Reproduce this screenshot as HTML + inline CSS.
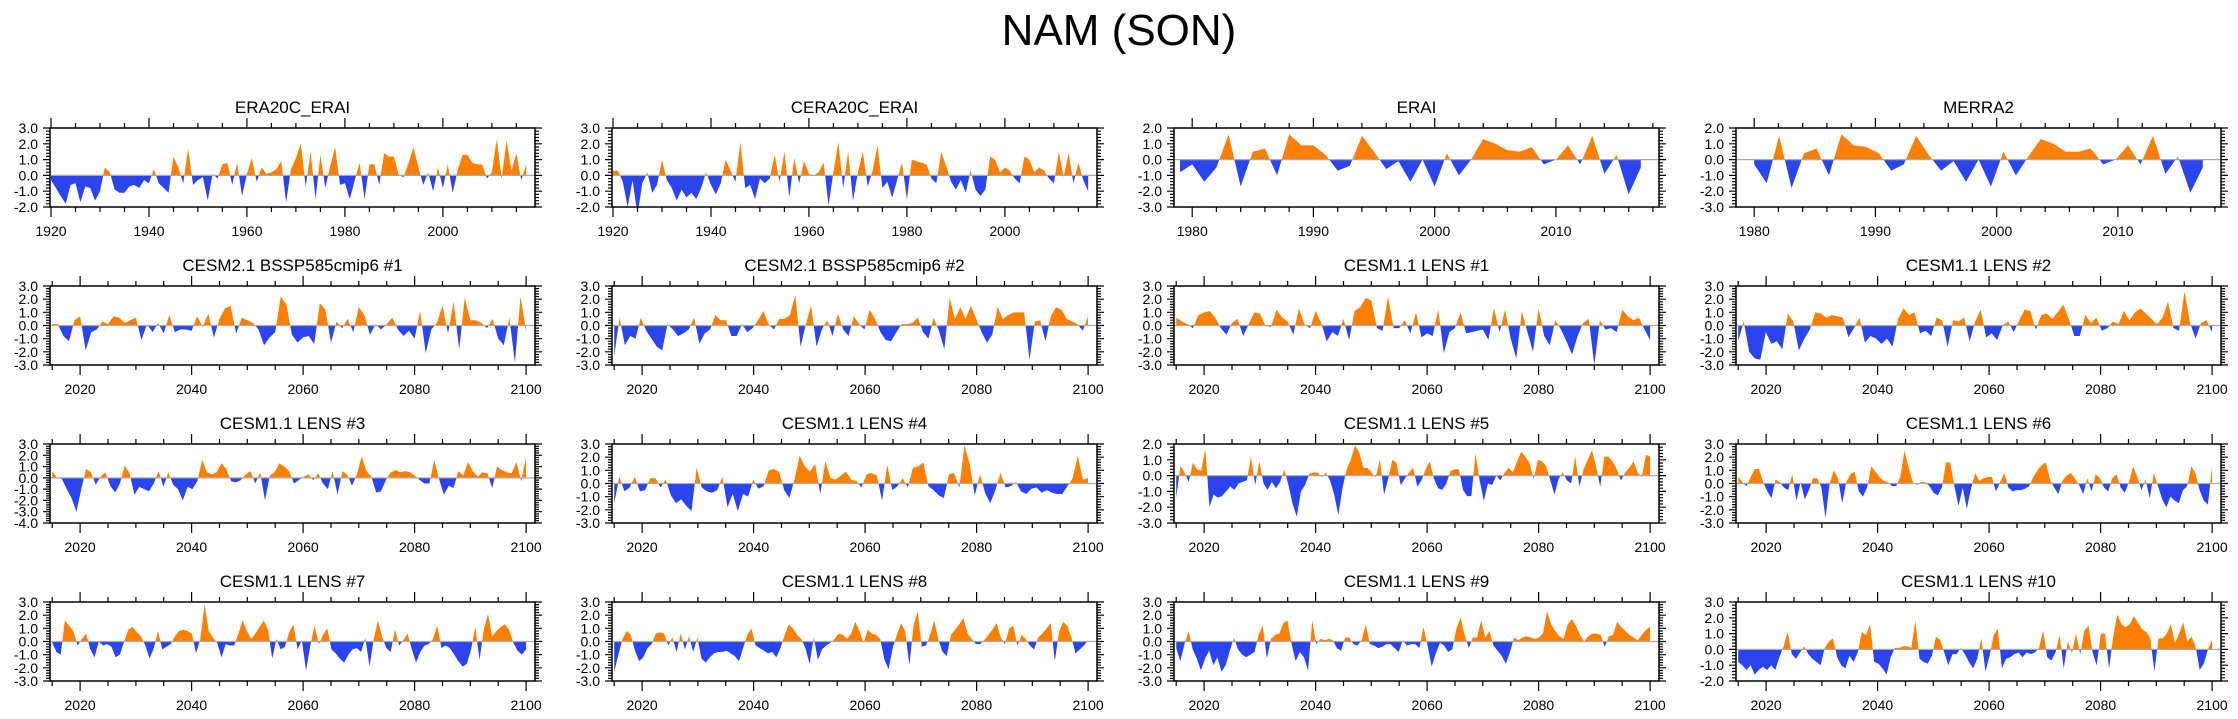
<!DOCTYPE html>
<html><head><meta charset="utf-8"><title>NAM (SON)</title>
<style>
html,body{margin:0;padding:0;background:#fff;}
svg{display:block;font-family:"Liberation Sans",Arial,sans-serif;}
</style></head>
<body>
<svg id="chart" width="2238" height="719" viewBox="0 0 2238 719">
<text x="1119" y="45" font-size="44" text-anchor="middle">NAM (SON)</text>
</svg>
<script>
// ---------- data ----------
const era20cValues = [-0.3,-0.8,-1.3,-1.8,-0.6,-0.5,-1.7,-0.7,-0.8,-1.6,-1.0,0.5,0.2,-0.9,-1.1,-1.1,-0.7,-0.6,-0.8,-0.3,-0.5,0.4,-0.5,-0.8,-1.1,1.2,0.5,-0.5,1.7,-0.6,-0.3,-0.1,-1.6,0.1,-0.2,0.7,0.8,-0.6,0.8,-1.3,0.1,1.1,-0.4,0.5,0.1,0.2,0.4,0.9,-1.7,0.4,1.1,2.0,-0.7,1.5,-1.5,1.3,-0.8,0.6,1.8,-0.6,-0.5,-1.5,-0.3,0.8,-1.5,0.7,0.7,-0.6,1.4,1.2,1.2,0.0,-0.1,0.8,1.8,0.5,-0.6,0.2,-1.0,0.5,-0.8,0.7,-1.1,0.3,1.3,1.3,0.8,0.7,0.7,-0.2,0.2,2.3,-0.2,2.2,0.3,1.4,-0.3,0.7];
const cera20cValues = [0.3,0.3,-0.4,-2.0,-0.3,-2.5,-0.5,0.2,-1.1,-0.6,1.0,-0.3,-0.8,-1.6,-0.9,-1.4,-1.1,-1.5,-0.8,0.2,-0.6,-1.2,-0.5,1.0,0.3,-0.4,2.1,-0.8,-0.6,-1.5,-0.2,-0.5,-0.2,1.3,-0.4,1.5,-1.4,1.1,-0.5,0.9,0.1,0.0,0.2,0.8,-1.9,0.2,2.1,-0.8,1.5,-1.6,0.2,1.5,-0.7,0.3,1.9,-0.8,-0.4,-1.4,-0.3,0.8,-1.5,1.0,0.9,0.8,0.7,-0.2,-0.5,1.5,0.6,-0.4,-0.9,-0.3,-1.1,0.3,-0.9,-1.3,-0.9,1.2,1.0,0.2,0.5,0.3,-0.2,-0.5,1.2,1.0,0.2,0.5,0.3,-0.2,-0.5,1.5,-0.1,1.4,-0.5,0.8,-0.3,-1.0];
const eraiValues = [-0.8,-0.3,-1.4,-0.5,1.6,-1.7,0.5,0.7,-1.0,1.6,0.9,0.9,0.3,-0.7,-0.4,1.5,0.5,-0.6,-0.1,-1.4,0.0,-1.7,0.4,-1.0,0.0,1.3,1.0,0.6,0.5,0.8,-0.3,0.0,0.9,-0.3,1.5,-0.9,0.3,-2.2,-0.5];
const merra2Values = [-0.3,-1.5,1.5,-1.8,0.4,0.7,-1.0,1.6,0.9,0.8,0.4,-0.7,-0.3,1.5,0.3,-0.7,-0.1,-1.4,0.0,-1.7,0.5,-1.0,0.2,1.3,1.0,0.5,0.5,0.7,-0.3,0.0,0.9,-0.3,1.5,-0.9,0.2,-2.1,-0.5];
const cesm2r1Values = [0.1,0.1,-0.8,-1.2,0.4,0.7,-1.9,-0.5,-0.3,0.3,0.1,0.7,0.6,0.2,0.4,0.6,-1.1,0.1,-0.5,0.2,-0.6,0.8,-0.5,-0.3,-0.3,-0.4,0.7,-0.1,0.9,-0.9,0.5,1.3,1.5,-0.6,0.6,0.4,0.2,-0.3,-1.5,-0.9,-0.5,2.2,1.6,-0.7,-1.3,-0.9,-0.8,-1.4,1.7,1.2,-1.3,0.3,-0.2,0.5,-0.5,1.4,0.8,-0.7,0.1,-0.3,0.1,0.6,-0.3,-0.8,-0.4,-1.0,1.1,-2.1,-0.3,0.2,1.5,-0.6,1.8,-1.8,2.1,0.4,0.4,0.2,-0.2,0.5,-1.0,-1.5,0.6,-2.8,2.2,-0.4];
const cesm2r2Values = [-2.3,0.6,-1.5,-0.8,-1.0,0.6,-0.4,-1.0,-1.6,-1.9,0.1,-0.3,-0.8,-0.6,-0.3,0.6,-1.4,-0.6,-0.3,0.8,0.4,0.4,-0.8,-0.8,0.1,-0.5,-0.2,0.4,1.1,0.1,-0.3,0.5,0.5,0.8,2.3,-1.6,0.1,1.5,-1.6,-0.3,0.4,-0.8,0.9,-0.3,-0.8,0.7,0.1,-0.3,1.2,0.5,-0.5,-1.1,-1.2,-0.5,0.1,0.1,0.2,0.6,-0.5,-1.0,0.6,-0.4,-1.8,2.1,0.5,1.4,0.5,1.5,0.5,-0.5,-1.3,-0.7,1.4,0.5,0.8,1.0,1.0,1.0,-2.6,0.3,0.4,-1.2,0.7,1.4,1.2,0.5,0.3,0.1,-0.4,0.7];
const lens1Values = [0.6,0.3,0.1,-0.2,0.8,1.0,1.1,0.6,-0.2,-0.7,0.2,0.5,-0.8,0.1,1.0,0.9,0.0,-0.1,1.2,0.6,0.3,-0.7,1.3,0.1,-0.2,1.1,0.2,-1.2,-0.5,-0.8,0.5,-1.1,1.1,1.4,2.1,1.9,-0.2,-0.4,2.2,-0.2,-0.2,0.4,-0.6,1.0,-0.9,-0.6,-0.8,1.2,-2.1,-0.5,-0.2,1.0,-0.6,-0.5,-0.4,-0.3,-1.1,1.3,-0.5,1.2,-1.0,-2.5,1.1,-0.5,-2.0,1.3,-0.8,-1.5,0.4,-0.3,-1.2,-2.2,-0.8,0.2,0.5,-3.0,0.4,-0.3,-0.2,-0.5,1.2,0.7,0.4,0.6,-0.3,-1.1];
const lens2Values = [-1.2,0.3,-2.0,-2.5,-2.6,-0.5,-1.4,-1.2,-1.8,0.9,0.3,-1.9,-1.0,-0.3,1.0,0.9,0.6,0.8,0.7,0.6,-0.9,-0.2,0.6,-1.3,-0.8,-1.0,-1.4,-1.0,-1.6,0.5,1.3,0.8,1.0,-0.6,-0.4,-0.8,0.6,0.4,-1.6,0.4,0.3,0.6,-1.2,0.3,1.2,-0.9,-0.6,-1.1,0.0,0.3,-0.5,0.4,1.2,1.1,-0.3,0.8,0.9,0.5,1.0,1.6,0.5,-0.8,-0.8,0.8,0.2,0.6,-0.4,-0.2,0.3,0.1,1.1,0.4,1.0,1.3,0.9,0.5,0.1,0.6,1.8,-0.2,-0.4,2.6,0.2,-1.0,0.2,0.4,-0.5];
const lens3Values = [0.6,0.0,-0.1,-1.0,-1.8,-3.0,-1.0,0.8,0.5,-0.6,0.1,0.5,-0.7,-1.3,-0.5,1.1,0.4,-1.5,-0.8,-1.0,-1.2,-0.5,0.6,-0.8,0.5,-0.6,-1.0,-2.0,-0.8,-1.0,-0.3,1.6,0.5,0.3,0.5,1.3,0.8,-0.3,-0.4,-0.2,0.3,0.6,-0.5,0.5,-2.0,0.2,0.5,1.3,1.0,0.6,-0.5,-0.2,0.1,0.3,-0.2,0.4,-0.5,-1.0,0.6,-1.5,0.6,0.3,-0.7,0.3,1.9,0.6,0.1,-1.3,-1.2,-0.2,0.5,0.7,0.5,0.6,0.5,0.2,-0.2,-0.5,-0.5,1.6,-0.1,-1.5,-0.7,-0.9,0.6,0.2,1.4,0.6,0.1,0.5,0.4,-0.9,1.0,0.7,0.5,0.4,1.4,-0.3,1.9];
const lens4Values = [-1.5,0.5,-0.6,-0.3,0.5,-0.6,-0.5,0.4,0.4,-0.3,0.3,-0.9,-1.5,-1.2,-1.7,-2.1,1.2,-0.3,-0.6,-0.7,-0.5,0.5,-1.8,-0.8,-2.1,-0.8,-1.0,0.3,-0.4,-0.2,1.0,1.1,0.9,-0.5,-1.1,0.3,2.1,1.3,0.9,1.5,-0.8,1.7,0.4,0.3,0.6,0.9,0.3,0.2,-0.3,0.7,0.8,0.6,-1.3,1.4,-0.5,-0.2,0.4,-0.3,1.2,1.3,1.6,-0.2,-0.5,-0.9,-1.1,0.7,0.8,-0.3,2.9,1.5,-0.9,0.7,-0.7,-1.5,-0.5,0.8,-0.3,-0.2,0.1,-0.6,-0.8,-0.4,-0.3,-0.7,-0.5,-0.7,-0.8,-0.8,-0.2,0.4,2.1,0.3,0.4];
const lens5Values = [-1.4,0.6,0.2,-0.4,0.8,0.4,0.3,1.7,-2.0,-1.2,-1.4,-1.3,-1.0,-0.7,-0.9,-0.5,-0.4,-0.3,1.2,-0.6,0.9,-0.5,-0.9,-0.4,-0.8,-0.4,0.4,-0.6,-1.8,-2.6,-1.0,-0.6,0.1,0.2,0.2,-0.1,0.2,-0.3,-1.2,-2.5,-0.8,0.4,1.0,1.9,1.5,0.5,0.5,0.2,-0.1,1.0,-1.2,-0.2,1.0,0.8,-0.6,-0.2,0.2,0.5,-0.7,-0.3,0.4,0.9,-0.2,-0.8,-0.9,-0.5,0.3,0.4,0.4,-0.9,-1.3,-1.3,1.4,-0.3,-1.6,-0.5,-0.6,0.0,-0.3,0.2,0.5,0.2,0.9,1.5,1.2,0.8,-0.2,1.0,0.9,0.6,-0.3,-1.2,-0.2,0.2,-0.3,-0.5,1.2,-0.7,0.4,1.0,1.6,0.6,-0.7,1.2,1.2,0.9,0.4,-0.3,0.2,0.5,0.9,0.2,-0.1,1.3,1.2];
const lens6Values = [0.5,0.1,-0.2,0.5,1.1,1.1,0.1,-0.6,-1.1,0.3,0.1,-0.3,-0.5,0.7,-1.3,0.1,-1.2,-0.5,0.4,0.4,-0.3,-2.6,0.0,1.0,0.4,-1.5,0.1,0.7,0.9,-0.6,-1.0,-0.3,1.3,0.9,0.5,0.2,0.1,-0.2,-0.2,0.5,2.5,1.2,0.1,-0.1,0.1,0.1,-0.2,-0.7,-0.9,-0.3,1.6,1.6,-0.2,-1.7,-0.3,-1.9,-0.4,0.8,0.2,0.4,0.5,0.5,-0.6,0.1,0.8,-0.3,-0.6,-0.5,-0.5,-0.4,-0.2,0.5,1.0,1.4,1.6,0.3,-0.3,-0.8,0.2,0.6,0.8,0.4,-0.1,-0.8,0.4,-0.6,0.7,0.4,-0.3,-0.6,0.4,0.7,-0.3,-0.7,0.1,1.3,0.5,-0.5,0.3,-1.1,0.8,-0.2,-1.2,-1.8,-1.0,-1.3,-1.5,-0.5,-0.2,1.3,0.8,-0.5,-1.3,-1.6,1.3];
const lens7Values = [-0.1,-0.8,-1.0,1.6,1.2,0.8,-0.3,0.2,0.6,-0.6,-1.2,0.0,-0.3,-0.2,-0.4,-1.2,-1.0,0.0,0.9,1.1,0.7,0.4,-0.3,-1.3,-0.5,0.8,-0.6,-0.4,-0.2,0.4,0.8,0.9,0.8,0.6,-0.9,0.2,2.8,0.8,0.3,-0.1,-1.2,-0.2,-0.3,-0.3,0.6,1.6,0.8,0.2,0.6,1.1,1.6,0.9,-1.3,0.2,-0.6,-0.4,0.7,1.3,-0.6,0.1,-2.2,-0.3,1.2,-0.2,0.5,1.0,-0.6,-0.9,-1.3,-1.6,-1.0,-0.6,-0.5,-0.8,0.3,-1.9,0.2,1.6,0.3,-0.5,-0.8,0.9,-0.3,0.1,0.6,-0.6,-1.6,-0.8,-0.3,-0.2,0.2,1.2,-0.5,-0.3,-0.5,-1.0,-1.5,-1.9,-1.7,-0.6,1.1,-1.4,0.9,2.1,0.4,0.8,1.1,1.3,0.9,-0.1,-0.7,-1.0,-0.6];
const lens8Values = [-2.3,-1.0,0.2,0.8,0.5,-0.7,-1.5,-1.2,-0.5,-0.2,0.6,0.7,0.6,-0.3,0.3,-0.8,0.6,-0.6,0.4,-0.8,0.3,-1.3,-1.6,-1.2,-0.9,-0.8,-0.8,-0.7,-0.9,-1.1,-1.5,-0.5,0.5,1.0,-0.3,-0.5,-0.7,-0.9,-0.8,-1.2,-0.5,0.5,1.3,1.0,0.5,0.2,-0.5,-1.7,0.3,-1.4,-0.6,-0.3,-0.1,0.2,0.6,0.5,0.2,0.6,1.5,0.8,-0.1,0.9,0.6,0.5,0.2,-1.4,-2.1,-0.5,0.5,1.4,0.8,-1.8,1.2,2.3,-0.4,-0.3,0.5,1.6,0.1,-0.8,-1.1,0.5,0.9,1.3,1.8,0.6,0.2,-0.2,-0.2,0.1,0.5,0.9,1.4,0.3,-0.2,1.0,1.2,-0.3,0.5,0.2,-0.3,-0.6,0.3,0.6,1.0,1.4,-1.5,0.7,1.5,1.2,0.3,-0.9,-0.6,-0.3,0.1];
const lens9Values = [-0.5,-1.5,-0.2,0.8,-0.6,-1.3,-2.2,-1.3,-0.7,-1.8,-1.2,-2.3,-1.8,-0.7,0.3,-0.6,-1.0,-1.2,-1.0,-0.8,0.5,1.2,-1.3,0.2,0.5,0.6,1.4,1.6,-0.2,-1.5,-0.8,-1.2,-2.2,1.6,-0.2,0.2,0.1,0.2,0.1,-0.5,-0.7,0.3,0.3,-0.2,-0.3,0.1,1.3,-0.2,-0.3,-0.5,-0.4,-0.2,-0.2,-0.5,-0.8,0.1,-0.3,-0.2,-0.2,-0.5,1.1,-0.3,-1.9,-0.9,-0.1,-0.3,-0.8,-0.6,1.0,1.8,0.5,-0.5,0.3,0.3,1.6,0.3,0.8,-0.3,-0.7,-1.1,-1.7,-0.8,0.3,0.1,0.3,0.4,0.3,0.2,0.3,0.6,2.3,1.3,0.8,0.4,0.2,1.3,1.7,1.2,0.5,0.0,0.4,0.6,0.6,0.5,-0.4,0.4,0.5,1.5,1.1,0.8,0.5,0.3,0.1,0.5,0.9,1.1];
const lens10Values = [-0.8,-1.0,-1.3,-1.0,-1.6,-1.3,-1.1,-1.3,-1.0,-1.3,-0.5,0.2,1.1,-0.3,-0.6,-0.2,0.2,-0.3,-0.6,-0.8,-1.0,0.1,0.5,0.7,-0.5,-1.0,-1.2,-0.4,-0.8,-0.2,1.1,0.9,1.6,-0.8,-0.9,-1.2,-1.6,-0.5,0.1,0.1,0.2,0.2,0.1,1.8,-0.6,-0.8,-0.9,-0.4,0.8,0.6,-0.2,-1.0,-0.3,-0.3,0.1,-0.3,-0.8,-1.2,-0.6,0.7,-1.4,-0.4,0.9,1.3,-1.2,-0.6,-0.5,-0.3,-0.2,-0.5,-0.2,-0.3,-0.2,0.1,1.2,-0.5,-0.7,-0.2,0.9,-1.2,0.5,-0.2,1.0,-0.3,1.2,1.5,-0.2,-1.0,1.0,1.0,-1.2,0.8,2.2,1.6,1.4,1.6,2.1,1.7,1.3,1.1,0.7,-1.4,0.7,0.7,1.0,1.6,0.4,1.0,1.7,0.5,0.8,0.2,-1.3,-0.9,0.0,0.6];

const era20cTicks = [1920,1940,1960,1980,2000,2020];
const eraiTicks = [1980,1990,2000,2010];
const cesmTicks = [2020,2040,2060,2080,2100];

const panelTitles = ["ERA20C_ERAI","CERA20C_ERAI","ERAI","MERRA2",
 "CESM2.1 BSSP585cmip6 #1","CESM2.1 BSSP585cmip6 #2","CESM1.1 LENS #1","CESM1.1 LENS #2",
 "CESM1.1 LENS #3","CESM1.1 LENS #4","CESM1.1 LENS #5","CESM1.1 LENS #6",
 "CESM1.1 LENS #7","CESM1.1 LENS #8","CESM1.1 LENS #9","CESM1.1 LENS #10"];
const panelSeries = [era20cValues,cera20cValues,eraiValues,merra2Values,
 cesm2r1Values,cesm2r2Values,lens1Values,lens2Values,
 lens3Values,lens4Values,lens5Values,lens6Values,
 lens7Values,lens8Values,lens9Values,lens10Values];
const panelYMin = [-2,-2,-3,-3, -3,-3,-3,-3, -4,-3,-3,-3, -3,-3,-3,-2];
const panelYMax = [3,3,2,2, 3,3,3,3, 3,3,2,3, 3,3,3,3];
const panelStartYear = [1920,1920,1979,1980, 2015,2015,2015,2015, 2015,2015,2015,2015, 2015,2015,2015,2015];
const panelEndYear = [2017,2017,2017,2017, 2100,2100,2100,2100, 2100,2100,2100,2100, 2100,2100,2100,2100];

// ---------- layout ----------
const NS = 'http://www.w3.org/2000/svg';
const svg = document.getElementById('chart');
const BOX_W = 485, BOX_H = 79;
function el(tag, parent){ const e = document.createElementNS(NS, tag); parent.appendChild(e); return e; }
function set(e, a){ for (const k in a) e.setAttribute(k, a[k]); return e; }

panelTitles.forEach((title, p) => {
  const col = p % 4, row = Math.floor(p / 4);
  const L = 50 + col * 562, T = 128 + row * 158, R = L + BOX_W, B = T + BOX_H;
  let xmin, xmax, majors, minorStep;
  if (p < 2) { xmin = 1919.8; xmax = 2018.8; majors = era20cTicks; minorStep = 5; }
  else if (p < 4) { xmin = 1978.5; xmax = 2018.5; majors = eraiTicks; minorStep = 2; }
  else { xmin = 2014.6; xmax = 2101.6; majors = cesmTicks; minorStep = 5; }
  const ymin = panelYMin[p], ymax = panelYMax[p];
  const sx = v => L + (v - xmin) / (xmax - xmin) * BOX_W;
  const sy = v => B - (v - ymin) / (ymax - ymin) * BOX_H;

  const g = el('g', svg);
  
  

  const t = el('text', g);
  set(t, {x: L + BOX_W / 2, y: T - 15, 'font-size': 17, 'text-anchor': 'middle'});
  t.textContent = title;
  
  

  // clip paths
  const cid = 'c' + p;
  const defs = el('defs', g);
  const cpA = set(el('clipPath', defs), {id: cid + 'a'});
  set(el('rect', cpA), {x: L, y: T, width: BOX_W, height: sy(0) - T});
  const cpB = set(el('clipPath', defs), {id: cid + 'b'});
  set(el('rect', cpB), {x: L, y: sy(0), width: BOX_W, height: B - sy(0)});

  const vals = panelSeries[p];
  const n = vals.length, y0 = panelStartYear[p], y1 = panelEndYear[p];
  const pts = [[sx(y0), sy(0)]];
  vals.forEach((v, i) => { pts.push([sx(y0 + i * (y1 - y0) / (n - 1)), sy(v)]); });
  pts.push([sx(y1), sy(0)]);
  const ptsStr = pts.map(q => q[0].toFixed(2) + ',' + q[1].toFixed(2)).join(' ');

  const pos = el('polygon', g);
  set(pos, {points: ptsStr, fill: '#ff8000', 'clip-path': 'url(#' + cid + 'a)'});
  
  
  const neg = el('polygon', g);
  set(neg, {points: ptsStr, fill: '#2a44ee', 'clip-path': 'url(#' + cid + 'b)'});
  
  

  const zl = el('line', g);
  set(zl, {x1: L, x2: R, y1: sy(0), y2: sy(0), stroke: '#aaaaaa', 'stroke-width': 1.2});
  
  

  // ticks
  let d = '';
  for (let v = ymin; v <= ymax + 1e-6; v += 0.2) {
    const y = sy(v).toFixed(1);
    const major = Math.abs(v - Math.round(v)) < 1e-6;
    const len = major ? 7 : 4;
    d += 'M' + (L - len) + ' ' + y + 'H' + L + 'M' + R + ' ' + y + 'H' + (R + len);
  }
  const firstMinor = Math.ceil(xmin / minorStep) * minorStep;
  for (let v = firstMinor; v <= xmax; v += minorStep) {
    const x = sx(v).toFixed(1);
    const major = majors.indexOf(v) >= 0;
    const len = major ? 10 : 5;
    d += 'M' + x + ' ' + T + 'V' + (T - len) + 'M' + x + ' ' + B + 'V' + (B + len);
  }
  const tk = el('path', g);
  set(tk, {d: d, stroke: '#000', 'stroke-width': 1.2, fill: 'none'});
  
  

  const box = el('rect', g);
  set(box, {x: L, y: T, width: BOX_W, height: BOX_H, fill: 'none', stroke: '#000', 'stroke-width': 1.5});
  
  

  for (let v = ymin; v <= ymax; v++) {
    const yl = el('text', g);
    set(yl, {x: L - 12, y: sy(v) + 5, 'font-size': 14, 'text-anchor': 'end'});
    yl.textContent = v.toFixed(1);
    
    
  }
  majors.forEach(v => {
    if (v < xmin || v > xmax) return;
    const xl = el('text', g);
    set(xl, {x: sx(v), y: B + 29, 'font-size': 14, 'text-anchor': 'middle'});
    xl.textContent = String(v);
    
    
  });
});
</script>
</body></html>
